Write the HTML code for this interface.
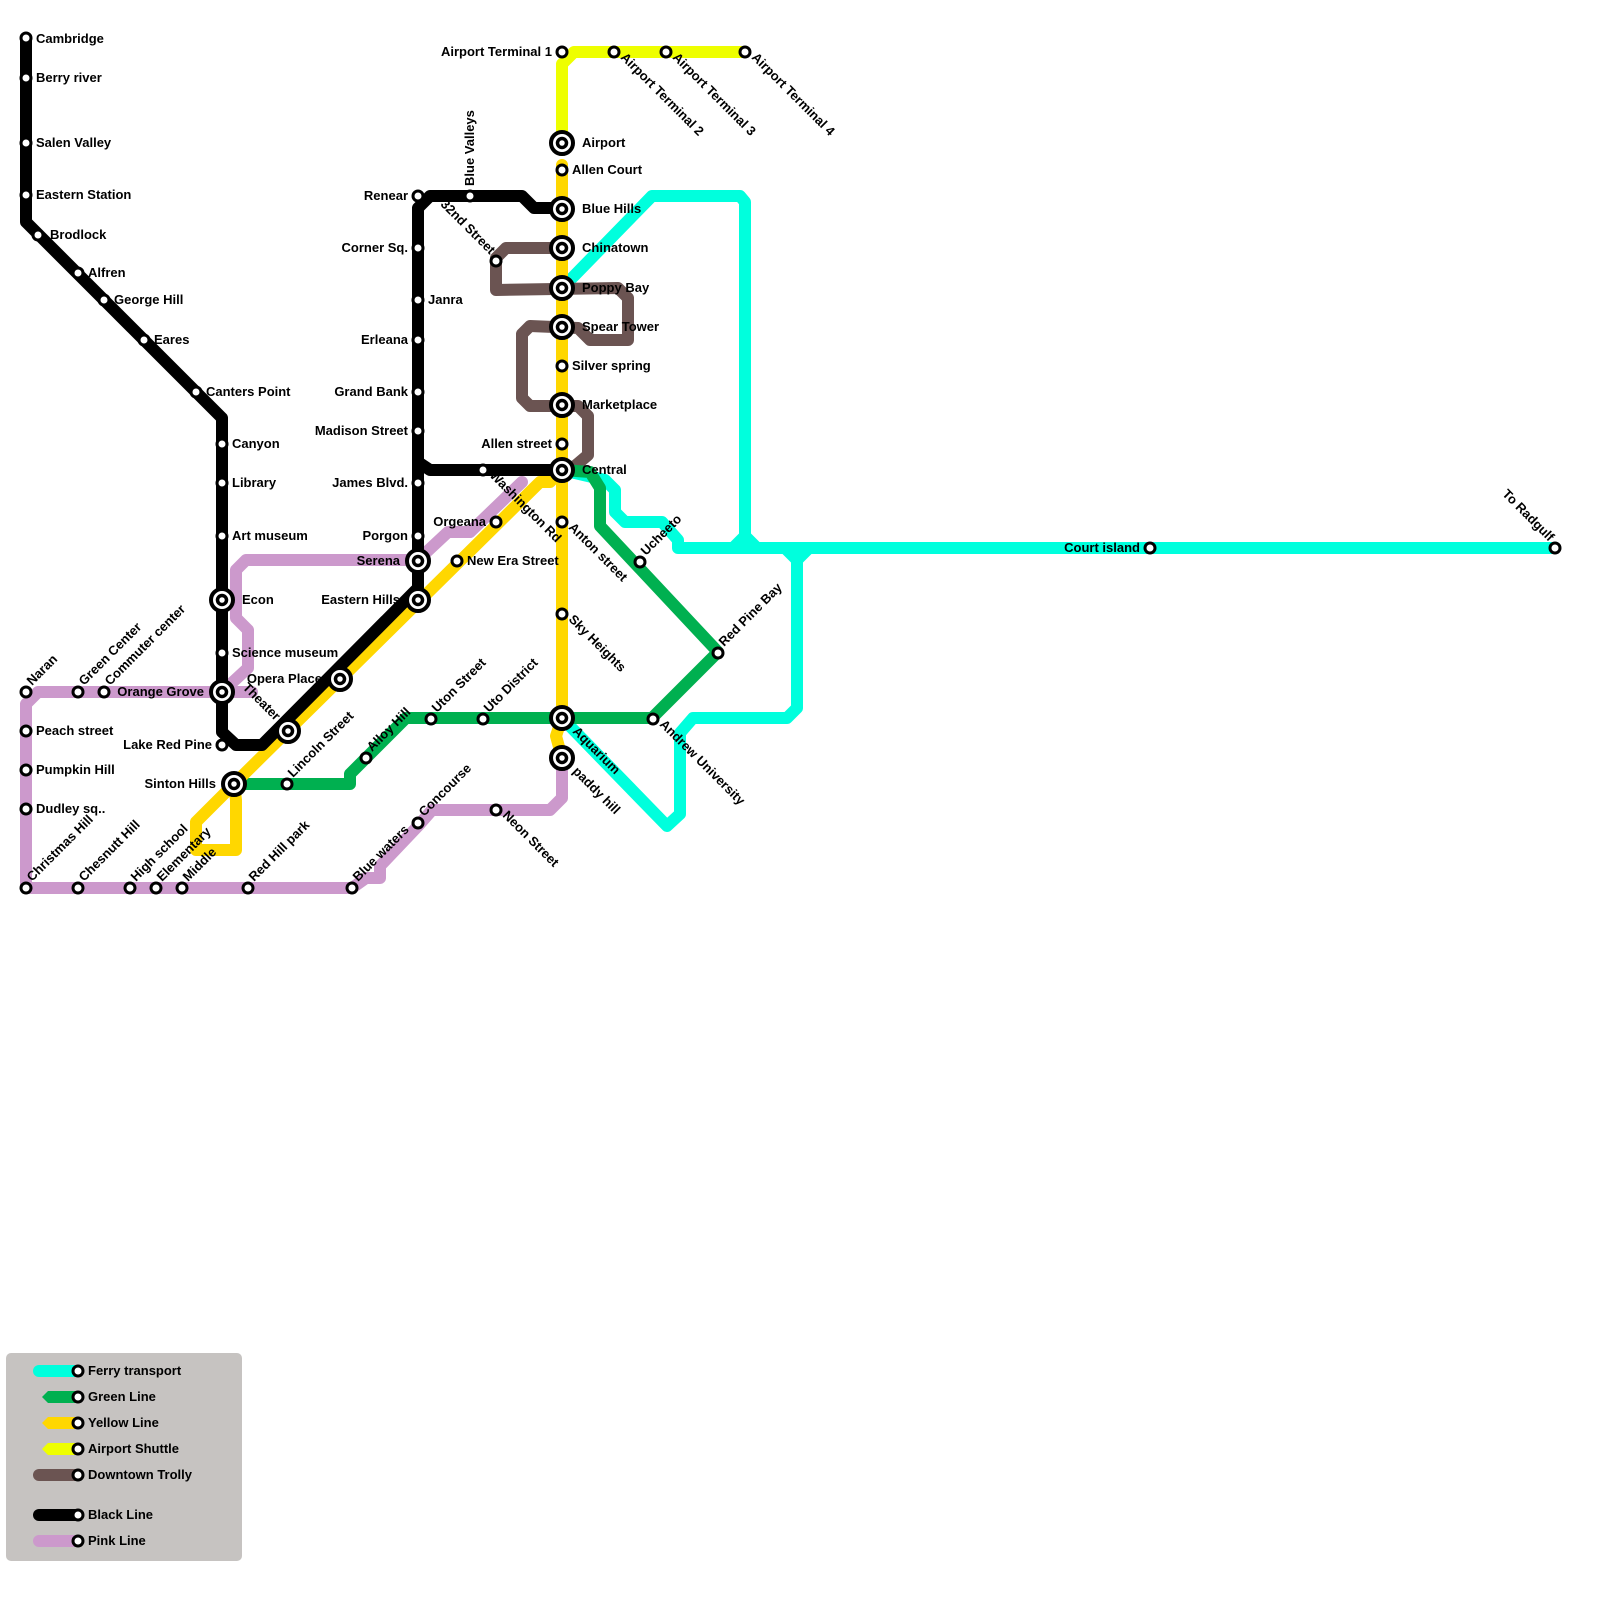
<!DOCTYPE html>
<html><head><meta charset="utf-8"><style>
html,body{margin:0;padding:0;background:#fff}
svg{display:block}
text{font-family:"Liberation Sans",Arial,sans-serif;font-weight:bold;font-size:13px;fill:#000}
</style></head><body>
<svg width="1600" height="1600" viewBox="0 0 1600 1600" xmlns="http://www.w3.org/2000/svg">
<g fill="none" stroke-linejoin="round" stroke-linecap="round" stroke-width="12">
<!-- pink -->
<g stroke="#CC99CC">
<polyline points="26,888 26,704 38,692 252,692"/>
<polyline points="222,692 248,668 248,630 236,618 236,570 246,560 418,560 448,532 470,532 522,482"/>
<polyline points="26,888 352,888 366,878 380,878 380,866 418,826 432,810 550,810 562,798 562,758"/>
</g>
<!-- ferry -->
<g stroke="#00FFDD">
<polyline points="562,288 575,275 652,196 740,196 745,202 745,536 733,548"/>
<polyline points="745,536 757,548"/>
<polyline points="562,470 605,480 615,490 615,512 625,522 662,522 678,540 678,548 1555,548"/>
<polyline points="562,718 667,826 680,814 680,733 693,718 787,718 797,708 797,560 785,548"/>
<polyline points="797,560 809,548"/>
</g>
<!-- trolley -->
<polyline stroke="#6B5452" points="562,248 506,248 496,258 496,290 618,288 628,298 628,340 590,340 578,328 530,326 522,334 522,398 530,406 578,406 588,416 588,455 575,466 562,470"/>
<!-- green -->
<polyline stroke="#00B050" points="234,784 350,784 350,774 366,758 406,718 652,718 718,652 600,526 600,488 590,472 562,470"/>
<!-- yellow -->
<g stroke="#FFD700">
<polyline points="562,165 562,718 556,736 562,758"/>
<polyline points="562,470 550,482 540,482 234,784 196,822 196,850 236,850 236,800 234,784"/>
</g>
<!-- airport shuttle -->
<polyline stroke="#EEFF00" points="562,150 562,64 574,52 745,52"/>
<!-- black -->
<g stroke="#000">
<polyline points="26,38 26,222 222,418 222,732 236,745 262,745 412,594 418,588 418,208 430,196 522,196 534,208 562,208"/>
<polyline points="418,462 430,470 562,470"/>
</g>
</g>

<!-- small stations -->
<g fill="#fff" stroke="#000" stroke-width="3">
<circle cx="26" cy="38" r="5"/><circle cx="26" cy="78" r="5"/><circle cx="26" cy="143" r="5"/><circle cx="26" cy="195" r="5"/>
<circle cx="38" cy="235" r="5"/><circle cx="78" cy="273" r="5"/><circle cx="104" cy="300" r="5"/><circle cx="144" cy="340" r="5"/><circle cx="196" cy="392" r="5"/>
<circle cx="222" cy="444" r="5"/><circle cx="222" cy="483" r="5"/><circle cx="222" cy="536" r="5"/><circle cx="222" cy="653" r="5"/><circle cx="222" cy="745" r="5"/>
<circle cx="26" cy="692" r="5"/><circle cx="78" cy="692" r="5"/><circle cx="104" cy="692" r="5"/>
<circle cx="26" cy="731" r="5"/><circle cx="26" cy="770" r="5"/><circle cx="26" cy="809" r="5"/><circle cx="26" cy="888" r="5"/>
<circle cx="78" cy="888" r="5"/><circle cx="130" cy="888" r="5"/><circle cx="156" cy="888" r="5"/><circle cx="182" cy="888" r="5"/><circle cx="248" cy="888" r="5"/><circle cx="352" cy="888" r="5"/>
<circle cx="418" cy="823" r="5"/><circle cx="496" cy="810" r="5"/>
<circle cx="287" cy="784" r="5"/><circle cx="366" cy="758" r="5"/><circle cx="431" cy="719" r="5"/><circle cx="483" cy="719" r="5"/><circle cx="653" cy="719" r="5"/><circle cx="718" cy="653" r="5"/><circle cx="640" cy="562" r="5"/>
<circle cx="418" cy="196" r="5"/><circle cx="470" cy="196" r="5"/><circle cx="418" cy="248" r="5"/><circle cx="418" cy="300" r="5"/><circle cx="418" cy="340" r="5"/><circle cx="418" cy="392" r="5"/><circle cx="418" cy="431" r="5"/><circle cx="418" cy="483" r="5"/><circle cx="418" cy="536" r="5"/>
<circle cx="496" cy="261" r="5"/><circle cx="483" cy="470" r="5"/><circle cx="496" cy="522" r="5"/><circle cx="457" cy="561" r="5"/>
<circle cx="562" cy="170" r="5"/><circle cx="562" cy="366" r="5"/><circle cx="562" cy="444" r="5"/><circle cx="562" cy="522" r="5"/><circle cx="562" cy="614" r="5"/>
<circle cx="562" cy="52" r="5"/><circle cx="614" cy="52" r="5"/><circle cx="666" cy="52" r="5"/><circle cx="745" cy="52" r="5"/>
<circle cx="1150" cy="548" r="5"/><circle cx="1555" cy="548" r="5"/>
</g>
<!-- interchanges -->
<g fill="#fff" stroke="#000">
<g stroke-width="4">
<circle cx="562" cy="143" r="11"/><circle cx="562" cy="209" r="11"/><circle cx="562" cy="248" r="11"/><circle cx="562" cy="288" r="11"/><circle cx="562" cy="327" r="11"/><circle cx="562" cy="405" r="11"/><circle cx="562" cy="470" r="11"/><circle cx="562" cy="718" r="11"/><circle cx="562" cy="758" r="11"/>
<circle cx="222" cy="600" r="11"/><circle cx="222" cy="692" r="11"/><circle cx="418" cy="561" r="11"/><circle cx="418" cy="600" r="11"/><circle cx="340" cy="679" r="11"/><circle cx="288" cy="731" r="11"/><circle cx="234" cy="784" r="11"/>
</g>
<g stroke-width="3.5">
<circle cx="562" cy="143" r="4.5"/><circle cx="562" cy="209" r="4.5"/><circle cx="562" cy="248" r="4.5"/><circle cx="562" cy="288" r="4.5"/><circle cx="562" cy="327" r="4.5"/><circle cx="562" cy="405" r="4.5"/><circle cx="562" cy="470" r="4.5"/><circle cx="562" cy="718" r="4.5"/><circle cx="562" cy="758" r="4.5"/>
<circle cx="222" cy="600" r="4.5"/><circle cx="222" cy="692" r="4.5"/><circle cx="418" cy="561" r="4.5"/><circle cx="418" cy="600" r="4.5"/><circle cx="340" cy="679" r="4.5"/><circle cx="288" cy="731" r="4.5"/><circle cx="234" cy="784" r="4.5"/>
</g>
</g>

<!-- labels: right -->
<g>
<text x="36" y="43">Cambridge</text><text x="36" y="82">Berry river</text><text x="36" y="147">Salen Valley</text><text x="36" y="199">Eastern Station</text>
<text x="50" y="239">Brodlock</text><text x="88" y="277">Alfren</text><text x="114" y="304">George Hill</text><text x="154" y="344">Eares</text><text x="206" y="396">Canters Point</text>
<text x="232" y="448">Canyon</text><text x="232" y="487">Library</text><text x="232" y="540">Art museum</text><text x="242" y="604">Econ</text><text x="232" y="657">Science museum</text>
<text x="36" y="735">Peach street</text><text x="36" y="774">Pumpkin Hill</text><text x="36" y="813">Dudley sq..</text>
<text x="428" y="304">Janra</text><text x="467" y="565">New Era Street</text>
<text x="582" y="147">Airport</text><text x="572" y="174">Allen Court</text><text x="582" y="213">Blue Hills</text><text x="582" y="252">Chinatown</text><text x="582" y="292">Poppy Bay</text><text x="582" y="331">Spear Tower</text><text x="572" y="370">Silver spring</text><text x="582" y="409">Marketplace</text><text x="582" y="474">Central</text>
</g>
<!-- labels: left -->
<g text-anchor="end">
<text x="204" y="696">Orange Grove</text><text x="212" y="749">Lake Red Pine</text><text x="216" y="788">Sinton Hills</text><text x="322" y="683">Opera Place</text>
<text x="408" y="200">Renear</text><text x="408" y="252">Corner Sq.</text><text x="408" y="344">Erleana</text><text x="408" y="396">Grand Bank</text><text x="408" y="435">Madison Street</text><text x="408" y="487">James Blvd.</text><text x="408" y="540">Porgon</text><text x="400" y="565">Serena</text><text x="400" y="604">Eastern Hills</text>
<text x="486" y="526">Orgeana</text><text x="552" y="448">Allen street</text><text x="552" y="56">Airport Terminal 1</text><text x="1140" y="552">Court island</text>
</g>
<!-- rotated up-right -->
<g>
<text transform="translate(32,686) rotate(-45)">Naran</text>
<text transform="translate(84,686) rotate(-45)">Green Center</text>
<text transform="translate(110,686) rotate(-45)">Commuter center</text>
<text transform="translate(32,882) rotate(-45)">Christmas Hill</text>
<text transform="translate(84,882) rotate(-45)">Chesnutt Hill</text>
<text transform="translate(136,882) rotate(-45)">High school</text>
<text transform="translate(162,882) rotate(-45)">Elementary</text>
<text transform="translate(188,882) rotate(-45)">Middle</text>
<text transform="translate(254,882) rotate(-45)">Red Hill park</text>
<text transform="translate(358,882) rotate(-45)">Blue waters</text>
<text transform="translate(424,817) rotate(-45)">Concourse</text>
<text transform="translate(293,778) rotate(-45)">Lincoln Street</text>
<text transform="translate(372,752) rotate(-45)">Alloy Hill</text>
<text transform="translate(437,713) rotate(-45)">Uton Street</text>
<text transform="translate(489,713) rotate(-45)">Uto District</text>
<text transform="translate(724,647) rotate(-45)">Red Pine Bay</text>
<text transform="translate(646,556) rotate(-45)">Ucheeto</text>
<text transform="translate(474,186) rotate(-90)">Blue Valleys</text>
</g>
<!-- rotated down-right -->
<g>
<text transform="translate(242,688) rotate(45)">Theater</text>
<text transform="translate(489,476) rotate(45)">Washington Rd</text>
<text transform="translate(568,528) rotate(45)">Anton street</text>
<text transform="translate(568,620) rotate(45)">Sky Heights</text>
<text transform="translate(572,732) rotate(45)">Aquarium</text>
<text transform="translate(572,772) rotate(45)">paddy hill</text>
<text transform="translate(502,816) rotate(45)">Neon Street</text>
<text transform="translate(659,725) rotate(45)">Andrew University</text>
<text transform="translate(620,58) rotate(45)">Airport Terminal 2</text>
<text transform="translate(672,58) rotate(45)">Airport Terminal 3</text>
<text transform="translate(751,58) rotate(45)">Airport Terminal 4</text>
</g>
<g text-anchor="end">
<text transform="translate(490,255) rotate(45)">32nd Street</text>
<text transform="translate(1549,542) rotate(45)">To Radgulf</text>
</g>

<!-- legend -->
<rect x="6" y="1353" width="236" height="208" rx="5" fill="#C6C3C1"/>
<g stroke-width="12" stroke-linecap="round" fill="none">
<line x1="39" y1="1371" x2="78" y2="1371" stroke="#00FFDD"/>
<line x1="78" y1="1515" x2="39" y2="1515" stroke="#000"/>
<line x1="78" y1="1541" x2="39" y2="1541" stroke="#CC99CC"/>
<line x1="78" y1="1475" x2="39" y2="1475" stroke="#6B5452"/>
</g>
<polygon points="42,1397 48,1391 78,1391 78,1403 48,1403" fill="#00B050"/>
<polygon points="42,1423 48,1417 78,1417 78,1429 48,1429" fill="#FFD700"/>
<polygon points="42,1449 48,1443 78,1443 78,1455 48,1455" fill="#EEFF00"/>
<g fill="#fff" stroke="#000" stroke-width="3">
<circle cx="78" cy="1371" r="5"/><circle cx="78" cy="1397" r="5"/><circle cx="78" cy="1423" r="5"/><circle cx="78" cy="1449" r="5"/><circle cx="78" cy="1475" r="5"/><circle cx="78" cy="1515" r="5"/><circle cx="78" cy="1541" r="5"/>
</g>
<text x="88" y="1375">Ferry transport</text><text x="88" y="1401">Green Line</text><text x="88" y="1427">Yellow Line</text><text x="88" y="1453">Airport Shuttle</text><text x="88" y="1479">Downtown Trolly</text><text x="88" y="1519">Black Line</text><text x="88" y="1545">Pink Line</text>
</svg>
</body></html>
